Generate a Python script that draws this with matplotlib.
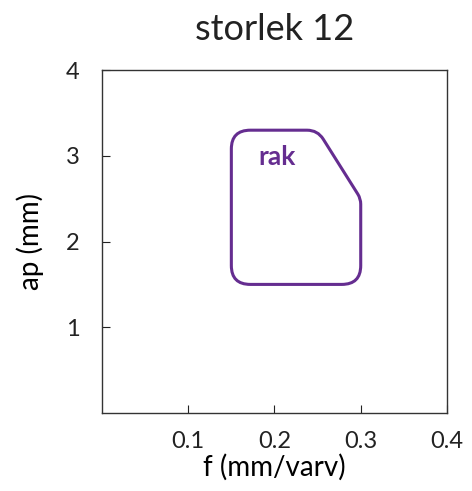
import numpy as np
import matplotlib.pyplot as plt
from matplotlib.path import Path
from matplotlib.patches import PathPatch

# Region outline (f in mm/varv, ap in mm)
region_f = [0.15, 0.30, 0.30, 0.25, 0.15]
region_ap = [1.5, 1.5, 2.5, 3.3, 3.3]
region_label = "rak"
label_pos = (0.2035, 2.985)

x_ticks = [0.1, 0.2, 0.3, 0.4]
y_ticks = [1, 2, 3, 4]
purple = "#652d90"

plt.rcParams['font.family'] = ['Lato', 'DejaVu Sans']


# Builds a closed path with circular-ish fillets (radius R in axes fractions)
def rounded_path(xs, ys, xlim, ylim, R):
   sx = xlim[1] - xlim[0]
   sy = ylim[1] - ylim[0]
   pts = np.column_stack([(np.array(xs) - xlim[0]) / sx, (np.array(ys) - ylim[0]) / sy])
   n = len(pts)
   verts = []
   codes = []
   for i in range(n):
      p0 = pts[i - 1]
      p1 = pts[i]
      p2 = pts[(i + 1) % n]
      d1 = (p0 - p1) / np.linalg.norm(p0 - p1)
      d2 = (p2 - p1) / np.linalg.norm(p2 - p1)
      theta = np.arccos(np.clip(np.dot(d1, d2), -1, 1))
      d = R / np.tan(theta / 2)
      a = p1 + d1 * d
      b = p1 + d2 * d
      verts += [a, p1, b]
      codes += [Path.MOVETO if i == 0 else Path.LINETO, Path.CURVE3, Path.CURVE3]
   verts.append(verts[0])
   codes.append(Path.CLOSEPOLY)
   verts = np.array(verts)
   verts[:, 0] = verts[:, 0] * sx + xlim[0]
   verts[:, 1] = verts[:, 1] * sy + ylim[0]
   return Path(verts, codes)


fig = plt.figure(figsize=(4.72, 4.91), dpi=100)
ax = fig.add_axes([0.216, 0.159, 0.731, 0.698])
xlim = (0, 0.4)
ylim = (0, 4)
ax.set_xlim(*xlim)
ax.set_ylim(*ylim)

path = rounded_path(region_f, region_ap, xlim, ylim, 0.055)
ax.add_patch(PathPatch(path, facecolor="none", edgecolor=purple, lw=2.2))
ax.text(label_pos[0], label_pos[1], region_label, color=purple, fontsize=19,
        fontweight="bold", ha="center", va="center")

ax.set_xticks(x_ticks)
ax.set_xticklabels([str(v) for v in x_ticks])
ax.set_yticks(y_ticks)
ax.set_yticklabels([str(v) for v in y_ticks])
ax.tick_params(direction="in", length=6, width=0.8, labelsize=17, colors="#222222")
ax.tick_params(axis="x", pad=13)
ax.tick_params(axis="y", pad=16)
for sp in ax.spines.values():
   sp.set_linewidth(1.0)
   sp.set_color("#333333")

ax.set_xlabel("f (mm/varv)", fontsize=20, labelpad=1)
ax.set_ylabel("ap (mm)", fontsize=20, labelpad=16)
ax.set_title("storlek 12", fontsize=26, pad=22, color="#222222")

fig.savefig("out.png", dpi=100)
